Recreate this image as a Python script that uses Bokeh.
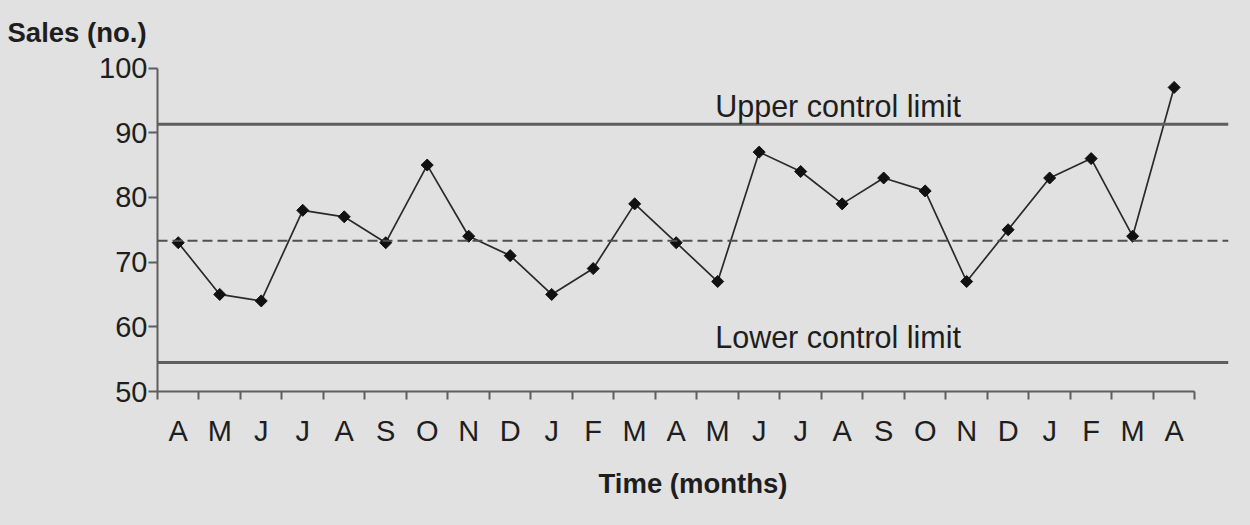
import numpy as np
from bokeh.plotting import figure
from bokeh.models import Range1d, FixedTicker, Span, Label, ColumnDataSource, GlobalInlineStyleSheet
from bokeh.embed import file_html
from bokeh.resources import INLINE

# ---- data ----
months = ["A", "M", "J", "J", "A", "S", "O", "N", "D", "J", "F", "M", "A",
          "M", "J", "J", "A", "S", "O", "N", "D", "J", "F", "M", "A"]
sales = [73, 65, 64, 78, 77, 73, 85, 74, 71, 65, 69, 79, 73,
         67, 87, 84, 79, 83, 81, 67, 75, 83, 86, 74, 97]
center_line = 73.3
upper_limit = 91.3
lower_limit = 54.5
y_ticks = [50, 60, 70, 80, 90, 100]

x_pos = [i + 0.5 for i in range(len(months))]
src = ColumnDataSource(dict(x=x_pos, y=sales))

BG = "#e1e1e1"
TXT = "#1e1e1e"
AX = "#5e5e5e"
REG = "Liberation Sans"
BOLD = "Liberation Sans"

p = figure(width=1234, height=509, output_backend="svg", toolbar_location=None,
           x_range=Range1d(0, 25.81), y_range=Range1d(50, 101.16),
           min_border_left=157, min_border_right=6, min_border_top=60,
           min_border_bottom=118)
p.stylesheets = [GlobalInlineStyleSheet(css="body { background: #e1e1e1; }")]
p.background_fill_color = BG
p.border_fill_color = BG
p.outline_line_color = None
p.grid.visible = False

# title (y axis name, horizontal at top-left)
p.title.text = "Sales (no.)"
p.title.align = "left"
p.title.offset = -150
p.title.text_font = BOLD
p.title.text_font_style = "bold"
p.title.text_font_size = "27.5px"
p.title.text_color = TXT
p.title.standoff = 26

# x axis
xa = p.xaxis[0]
xa.ticker = FixedTicker(ticks=x_pos, minor_ticks=list(range(len(months) + 1)))
xa.major_label_overrides = {xp: m for xp, m in zip(x_pos, months)}
xa.bounds = (0, len(months))
xa.major_tick_out = 0
xa.major_tick_in = 0
xa.minor_tick_out = 8
xa.minor_tick_in = 0
xa.minor_tick_line_width = 2
xa.minor_tick_line_color = AX
xa.axis_line_width = 2
xa.axis_line_color = AX
xa.major_label_text_font = REG
xa.major_label_text_font_size = "29px"
xa.major_label_text_color = TXT
xa.major_label_standoff = 15
xa.axis_label = "Time (months)"
xa.axis_label_text_font = BOLD
xa.axis_label_text_font_style = "bold"
xa.axis_label_text_font_size = "27.5px"
xa.axis_label_text_color = TXT
xa.axis_label_standoff = 18

# y axis
ya = p.yaxis[0]
ya.ticker = FixedTicker(ticks=y_ticks, minor_ticks=[])
ya.bounds = (50, 100)
ya.major_tick_out = 9
ya.major_tick_in = 0
ya.major_tick_line_width = 2
ya.major_tick_line_color = AX
ya.axis_line_width = 2
ya.axis_line_color = AX
ya.major_label_text_font = REG
ya.major_label_text_font_size = "29px"
ya.major_label_text_color = TXT
ya.major_label_standoff = 1

# control lines
p.add_layout(Span(location=upper_limit, dimension="width", line_color=AX, line_width=3))
p.add_layout(Span(location=lower_limit, dimension="width", line_color=AX, line_width=3))
p.add_layout(Span(location=center_line, dimension="width", line_color="#505050",
                  line_width=2.2, line_dash="10 5"))

# data
p.line("x", "y", source=src, line_color="#2a2a2a", line_width=1.7)
p.scatter("x", "y", source=src, marker="square", angle=np.pi / 4, size=8.5,
          fill_color="#111111", line_color="#111111")

# texts
p.add_layout(Label(x=13.44, y=94.1, text="Upper control limit", text_font=REG,
                   text_font_size="30.5px", text_color=TXT, text_baseline="alphabetic"))
p.add_layout(Label(x=13.44, y=58.45, text="Lower control limit", text_font=REG,
                   text_font_size="30.5px", text_color=TXT, text_baseline="alphabetic"))

open("out.html", "w").write(file_html(p, INLINE))
